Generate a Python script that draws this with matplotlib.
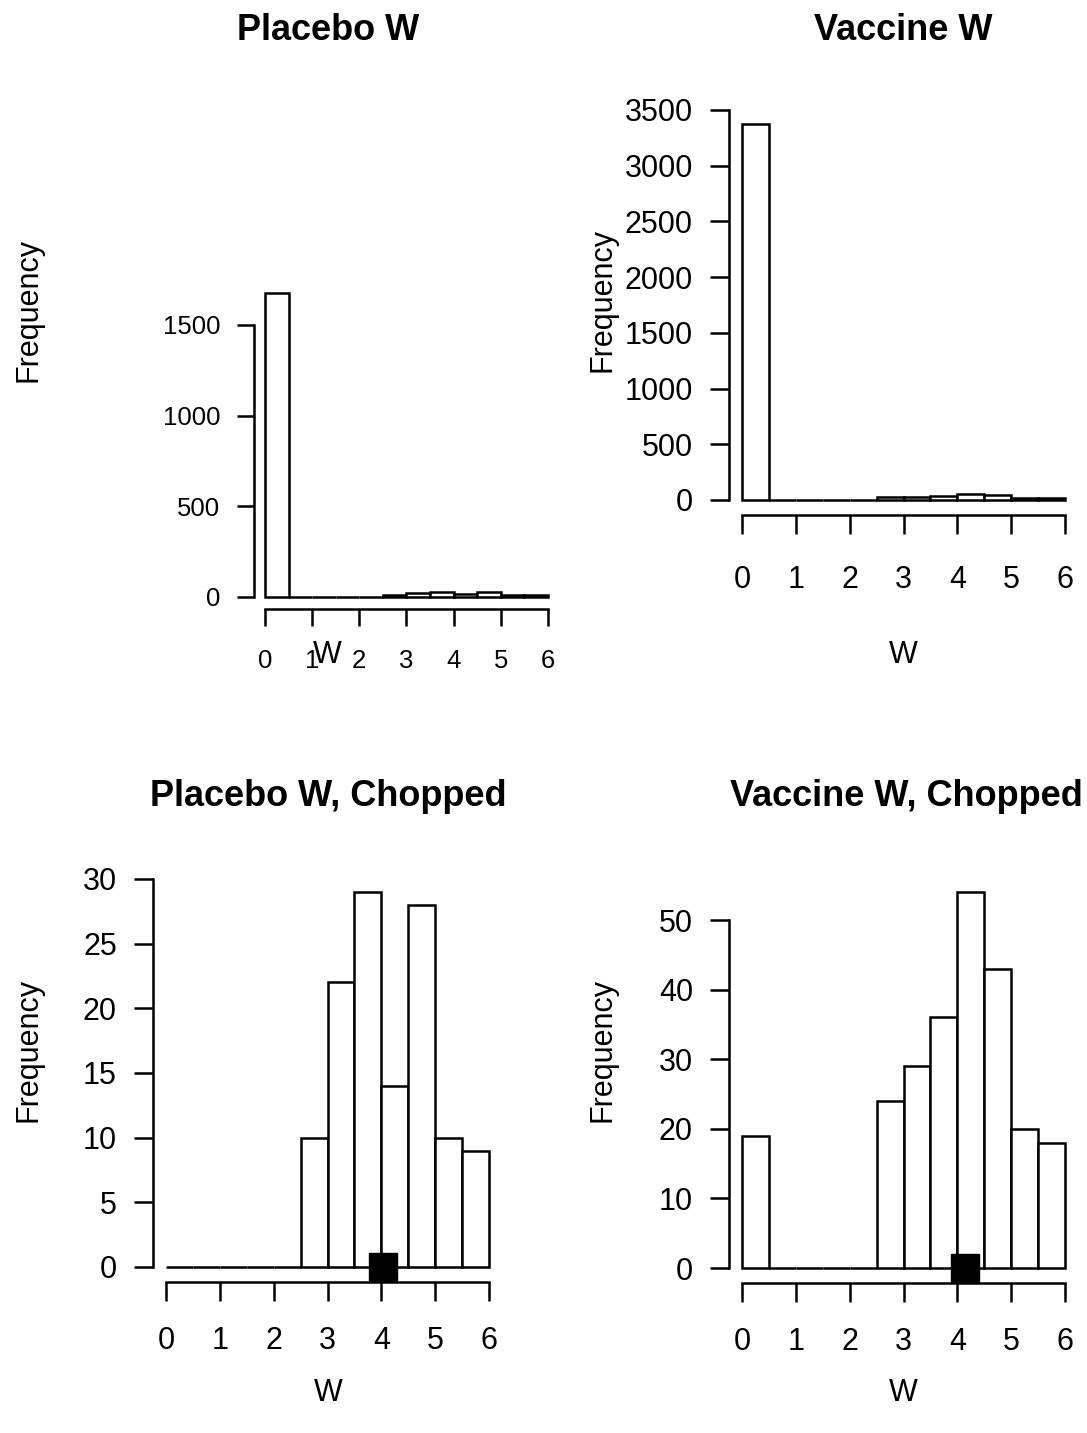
import numpy as np
import matplotlib
matplotlib.use("Agg")
import matplotlib.pyplot as plt

plt.rcParams['font.family'] = ['Liberation Sans', 'DejaVu Sans']

# histogram data (bins of width 0.5 from 0 to 6)
edges = np.arange(0, 6.5, 0.5)
placebo_counts = [1677, 0, 0, 0, 0, 10, 22, 29, 14, 28, 10, 9]
vaccine_counts = [3374, 0, 0, 0, 0, 24, 29, 36, 54, 43, 20, 18]
placebo_chopped = [0, 0, 0, 0, 0, 10, 22, 29, 14, 28, 10, 9]
vaccine_chopped = [19, 0, 0, 0, 0, 24, 29, 36, 54, 43, 20, 18]
placebo_mark = 4.03
vaccine_mark = 4.14

W, H = 1087, 1433
fig = plt.figure(figsize=(W / 100, H / 100), dpi=100)


def fx(x):
    return x / W


def fy(y):
    return 1 - y / H


# place an R-style panel from pixel positions of x=0, x=6, y=0 and a reference y value
def panel(x0, x6, y0, yref_px, yref, counts, yticks, fs, ticklen, xpad):
    ymax = max(counts)
    sx = (x6 - x0) / 6
    sy = (y0 - yref_px) / yref
    xlo, xhi = -0.24, 6.24
    ylo, yhi = -0.04 * ymax, 1.04 * ymax
    left = x0 + xlo * sx
    right = x0 + xhi * sx
    top = y0 - yhi * sy
    bottom = y0 - ylo * sy
    ax = fig.add_axes([fx(left), fy(bottom), (right - left) / W, (bottom - top) / H])
    ax.set_xlim(xlo, xhi)
    ax.set_ylim(ylo, yhi)
    ax.bar(edges[:-1], counts, width=0.5, align='edge', facecolor='white',
           edgecolor='black', linewidth=1.8)
    for s in ['top', 'right']:
        ax.spines[s].set_visible(False)
    for s in ['left', 'bottom']:
        ax.spines[s].set_linewidth(1.8)
    ax.spines['left'].set_bounds(yticks[0], yticks[-1])
    ax.spines['bottom'].set_bounds(0, 6)
    ax.set_xticks(range(7))
    ax.set_yticks(yticks)
    ax.tick_params(axis='both', direction='out', length=ticklen, width=1.8, labelsize=fs)
    ax.tick_params(axis='y', pad=12)
    ax.tick_params(axis='x', pad=xpad)
    return ax


ax1 = panel(265, 548, 597, 325, 1500, placebo_counts, [0, 500, 1000, 1500], 18.5, 12, 17)
ax2 = panel(742, 1065, 500, 110, 3500, vaccine_counts, list(range(0, 3501, 500)), 22, 14, 22)
ax3 = panel(166, 489, 1267, 879, 30, placebo_chopped, list(range(0, 31, 5)), 22, 14, 18)
ax4 = panel(742, 1065, 1268, 920, 50, vaccine_chopped, list(range(0, 51, 10)), 22, 14, 18)

ax3.plot([placebo_mark], [0], 's', color='black', markersize=20, clip_on=False)
ax4.plot([vaccine_mark], [0], 's', color='black', markersize=20, clip_on=False)

# titles
tkw = dict(fontsize=26, fontweight='bold', ha='center', va='center')
fig.text(fx(328), fy(30), 'Placebo W', **tkw)
fig.text(fx(903), fy(30), 'Vaccine W', **tkw)
fig.text(fx(328), fy(797), 'Placebo W, Chopped', **tkw)
fig.text(fx(906), fy(797), 'Vaccine W, Chopped', **tkw)

# axis labels
lkw = dict(fontsize=22, ha='center', va='center')
fig.text(fx(28), fy(310), 'Frequency', rotation=90, **lkw)
fig.text(fx(603), fy(300), 'Frequency', rotation=90, **lkw)
fig.text(fx(28), fy(1050), 'Frequency', rotation=90, **lkw)
fig.text(fx(603), fy(1050), 'Frequency', rotation=90, **lkw)
fig.text(fx(327), fy(655), 'W', **lkw)
fig.text(fx(903), fy(655), 'W', **lkw)
fig.text(fx(328), fy(1393), 'W', **lkw)
fig.text(fx(903), fy(1393), 'W', **lkw)

fig.savefig('out.png', dpi=100)
